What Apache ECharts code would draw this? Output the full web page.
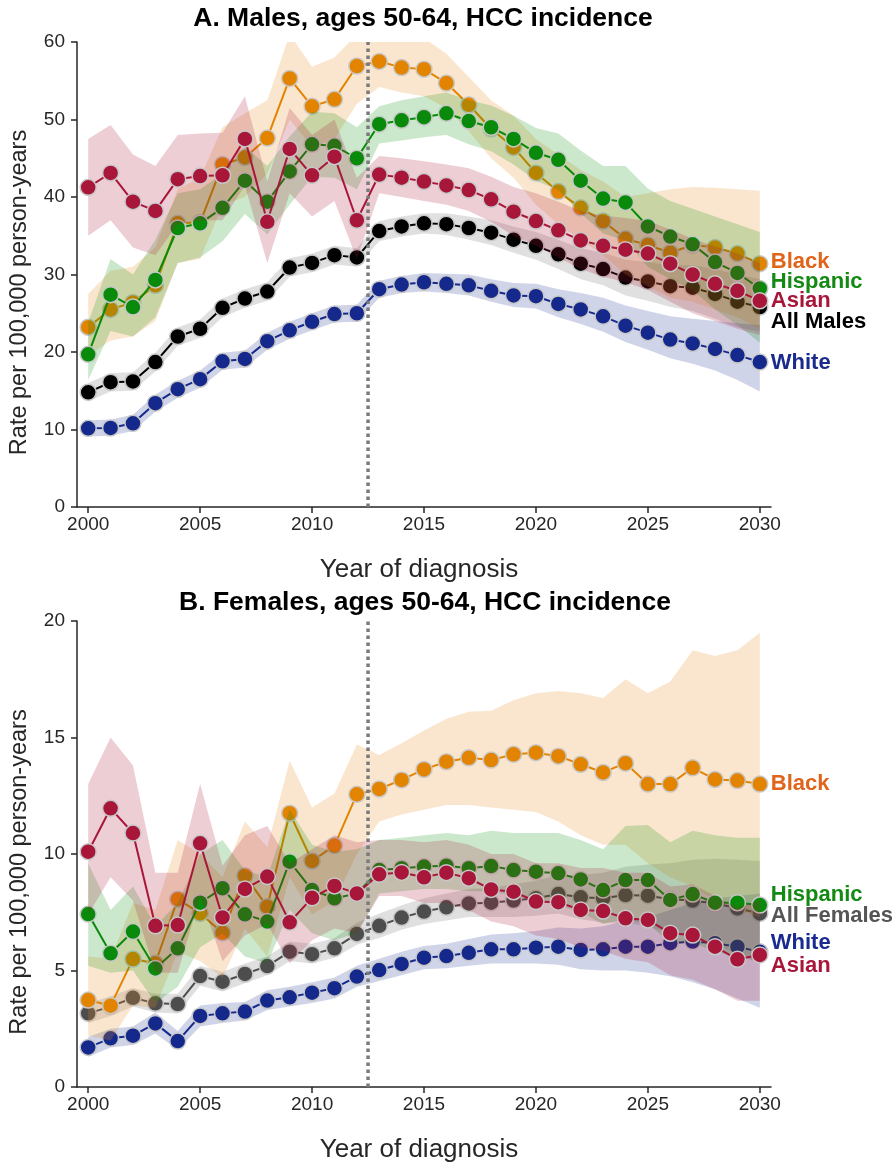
<!DOCTYPE html>
<html><head><meta charset="utf-8">
<script src="https://cdn.jsdelivr.net/npm/echarts@6/dist/echarts.min.js"></script>
<style>html,body{margin:0;padding:0;background:#fff}#c{width:896px;height:1165px}</style>
</head><body><div id="c"></div>
<script>
const years = [2000,2001,2002,2003,2004,2005,2006,2007,2008,2009,2010,2011,2012,2013,2014,2015,2016,2017,2018,2019,2020,2021,2022,2023,2024,2025,2026,2027,2028,2029,2030];
const xTicks = [2000,2005,2010,2015,2020,2025,2030];
const vline = 2012.5;

// Panel A: males
const A_all   = [14.8,16.1,16.2,18.7,22.0,23.0,25.7,26.9,27.8,30.9,31.5,32.5,32.2,35.6,36.2,36.6,36.5,36.0,35.4,34.5,33.7,32.6,31.4,30.7,29.6,29.1,28.5,28.3,27.5,26.5,25.8];
const A_all_lo= [13.6,14.9,15.0,17.5,20.8,21.8,24.5,25.7,26.6,29.7,30.3,31.3,31.0,34.3,34.9,35.3,35.1,34.5,33.8,32.8,31.9,30.7,29.4,28.6,27.3,26.6,25.8,25.3,24.3,23.2,22.6];
const A_all_hi= [16.0,17.3,17.4,19.9,23.2,24.2,26.9,28.1,29.0,32.1,32.7,33.7,33.4,36.9,37.5,37.9,37.9,37.5,37.0,36.2,35.5,34.5,33.4,32.8,31.9,31.6,31.2,31.2,30.7,30.0,29.4];
const A_white   = [10.15,10.2,10.8,13.4,15.2,16.5,18.8,19.1,21.4,22.8,23.9,24.9,25.0,28.1,28.7,29.0,28.8,28.6,27.9,27.3,27.2,26.2,25.5,24.6,23.4,22.5,21.6,21.1,20.4,19.6,18.7];
const A_white_lo= [9.1,9.2,9.8,12.3,14.1,15.4,17.7,18.0,20.3,21.7,22.8,23.8,23.9,27.0,27.6,27.8,27.6,27.3,26.5,25.8,25.6,24.5,23.6,22.6,21.3,20.3,19.2,18.5,17.6,16.4,14.9];
const A_white_hi= [11.2,11.3,11.9,14.5,16.3,17.6,19.9,20.2,22.5,23.9,25.0,26.0,26.1,29.2,29.8,30.2,30.1,30.0,29.4,28.9,28.8,28.1,27.6,27.0,26.0,25.3,24.6,24.3,24.0,23.7,23.5];
const A_black   = [23.2,25.5,26.4,28.6,36.6,36.7,44.2,45.1,47.6,55.3,51.7,52.6,56.9,57.5,56.7,56.5,54.7,51.9,48.8,46.4,43.1,40.7,38.6,36.9,34.6,33.8,32.8,33.8,33.5,32.7,31.4];
const A_black_lo= [19.5,21.5,22.0,24.0,31.5,32.0,39.0,40.0,43.0,50.0,46.5,47.5,52.0,54.2,53.5,53.0,51.5,48.5,45.0,42.5,39.0,36.5,34.5,32.5,30.0,28.5,27.0,26.5,25.5,24.5,23.0];
const A_black_hi= [27.5,30.5,31.0,33.5,41.0,42.5,49.0,50.8,52.5,61.0,56.8,58.0,61.0,61.0,61.0,60.5,58.5,55.5,52.5,50.5,47.5,45.5,43.5,42.0,40.0,40.5,41.0,41.3,41.2,41.0,40.8];
const A_hisp   = [19.7,27.4,25.8,29.3,36.0,36.6,38.6,42.1,39.4,43.3,46.8,46.6,45.0,49.4,49.9,50.3,50.8,49.8,49.0,47.5,45.7,44.8,42.1,39.8,39.3,36.2,34.9,33.9,31.6,30.2,28.2];
const A_hisp_lo= [16.4,22.7,22.0,24.5,31.5,32.2,34.3,37.8,35.2,39.0,42.6,42.5,41.0,46.9,47.3,47.7,48.0,46.8,45.9,44.2,42.1,40.9,37.9,35.3,34.4,31.0,29.4,28.0,25.5,23.5,21.2];
const A_hisp_hi= [23.8,32.0,30.0,34.5,40.5,41.0,43.0,46.5,44.0,47.8,51.0,50.8,49.0,51.7,52.5,53.0,53.5,52.5,51.8,50.5,48.9,48.2,46.0,44.0,44.0,41.1,39.5,38.5,37.5,36.5,35.5];
const A_asian   = [41.25,43.1,39.4,38.2,42.3,42.7,42.8,47.5,36.8,46.2,42.8,45.2,37.0,42.9,42.5,42.0,41.5,40.9,39.7,38.1,36.9,35.7,34.4,33.7,33.2,32.7,31.4,30.0,28.8,27.9,26.6];
const A_asian_lo= [35.0,37.0,33.5,32.5,36.5,37.0,37.0,41.5,31.5,40.5,37.5,39.5,32.0,40.5,40.0,39.5,39.0,38.2,36.8,35.0,33.7,32.2,30.7,29.7,29.0,28.0,26.5,25.0,24.0,23.0,22.2];
const A_asian_hi= [47.5,49.3,45.5,44.0,48.0,48.2,48.3,53.0,42.0,51.5,48.0,50.0,42.5,45.3,45.0,44.6,44.2,43.7,42.6,41.3,40.5,39.4,38.2,37.6,37.3,36.9,35.8,34.6,33.6,32.7,31.5];

// Panel B: females
const B_all   = [3.16,3.45,3.83,3.59,3.56,4.76,4.52,4.85,5.19,5.81,5.7,5.95,6.57,6.92,7.27,7.53,7.71,7.88,7.91,8.0,8.1,8.28,8.14,8.1,8.24,8.21,8.06,8.0,7.88,7.67,7.45];
const B_all_lo= [2.75,3.05,3.45,3.2,3.15,4.35,4.1,4.45,4.8,5.4,5.3,5.55,6.1,6.4,6.75,7.0,7.15,7.3,7.3,7.3,7.35,7.45,7.2,7.05,7.05,6.9,6.6,6.4,6.1,5.7,5.3];
const B_all_hi= [3.6,3.9,4.25,4.0,4.0,5.2,4.95,5.3,5.6,6.25,6.15,6.4,7.05,7.45,7.8,8.1,8.3,8.5,8.55,8.7,8.85,9.1,9.1,9.2,9.45,9.55,9.6,9.75,9.8,9.75,9.7];
const B_white   = [1.7,2.09,2.2,2.73,1.97,3.05,3.16,3.24,3.71,3.85,4.05,4.24,4.74,5.02,5.28,5.55,5.62,5.76,5.91,5.91,5.98,6.02,5.88,5.91,6.02,6.02,6.17,6.24,6.17,6.02,5.8];
const B_white_lo= [1.3,1.7,1.8,2.3,1.6,2.6,2.75,2.85,3.3,3.45,3.6,3.8,4.3,4.55,4.8,5.05,5.1,5.2,5.3,5.3,5.3,5.25,5.05,5.0,5.0,4.9,4.75,4.5,4.2,3.8,3.4];
const B_white_hi= [2.15,2.5,2.6,3.2,2.4,3.5,3.6,3.65,4.15,4.3,4.5,4.7,5.2,5.5,5.8,6.05,6.15,6.35,6.55,6.6,6.7,6.85,6.8,6.9,7.15,7.3,7.6,7.9,8.1,8.2,8.3];
const B_black   = [3.73,3.49,5.49,5.31,8.06,7.45,6.62,9.07,7.74,11.75,9.7,10.36,12.56,12.79,13.18,13.63,13.96,14.13,14.03,14.28,14.35,14.2,13.85,13.5,13.9,13.0,13.0,13.7,13.2,13.15,13.0];
const B_black_lo= [2.2,2.0,3.5,3.4,5.8,5.4,4.7,6.8,5.6,9.0,7.4,8.0,10.0,11.4,11.7,11.9,12.1,12.1,12.0,11.9,11.8,11.4,10.8,10.4,10.4,9.6,9.0,8.6,8.0,7.6,7.3];
const B_black_hi= [5.6,5.5,7.9,7.6,10.6,10.0,9.0,11.4,10.3,14.0,12.0,12.6,14.7,14.25,14.75,15.3,15.8,16.1,16.15,16.6,16.9,17.0,16.9,16.7,17.5,16.9,17.4,18.75,18.5,18.75,19.5];
const B_hisp   = [7.42,5.74,6.67,5.09,5.95,7.91,8.53,7.41,7.1,9.67,8.45,8.1,8.3,9.31,9.39,9.46,9.5,9.39,9.48,9.31,9.24,9.17,8.91,8.45,8.88,8.88,8.03,8.28,7.91,7.91,7.81];
const B_hisp_lo= [5.2,4.9,5.0,3.6,4.3,6.0,6.6,5.6,5.3,7.6,6.6,6.3,6.6,8.3,8.4,8.5,8.5,8.4,8.4,8.2,8.0,7.8,7.5,7.0,7.2,7.0,6.2,6.2,5.8,5.6,5.4];
const B_hisp_hi= [9.6,7.6,8.6,6.9,7.9,10.0,10.6,9.3,9.0,11.9,10.4,10.1,10.2,10.6,10.7,10.8,10.9,10.8,11.0,10.9,10.9,10.9,10.6,10.2,11.2,11.25,10.5,11.0,10.8,10.7,10.7];
const B_asian   = [10.1,11.96,10.9,6.92,6.95,10.46,7.28,8.5,9.03,7.07,8.12,8.63,8.31,9.13,9.21,9.0,9.2,8.96,8.48,8.38,7.96,7.93,7.6,7.55,7.24,7.17,6.6,6.52,6.02,5.48,5.67];
const B_asian_lo= [7.4,9.0,8.0,4.9,4.9,8.2,5.4,6.5,7.0,5.3,6.3,6.8,6.6,8.2,8.2,7.9,7.9,7.6,7.1,6.9,6.5,6.35,6.0,5.85,5.5,5.35,4.8,4.6,4.2,3.7,3.7];
const B_asian_hi= [13.0,15.0,13.8,9.2,9.2,13.0,9.5,10.8,11.2,9.6,10.2,10.8,10.5,10.6,10.6,10.5,10.6,10.4,10.0,10.0,9.6,9.6,9.4,9.4,9.2,9.2,8.6,8.7,8.2,7.7,8.0];

const FONT = "'Liberation Sans', Arial, Helvetica, sans-serif";
const AX = '#262626';

const panels = [
  {ymax:60, yint:10, groups:[
    {name:'All Males', v:A_all, lo:A_all_lo, hi:A_all_hi, c:'#000000', band:'rgba(0,0,0,0.12)', lc:'#000000', dy:15},
    {name:'White', v:A_white, lo:A_white_lo, hi:A_white_hi, c:'#15298C', band:'rgba(20,41,140,0.2)', lc:'#1A2B8F', dy:1},
    {name:'Black', v:A_black, lo:A_black_lo, hi:A_black_hi, c:'#E38400', band:'rgba(232,140,30,0.22)', lc:'#E0641A', dy:-2},
    {name:'Hispanic', v:A_hisp, lo:A_hisp_lo, hi:A_hisp_hi, c:'#0A8A0A', band:'rgba(0,138,0,0.2)', lc:'#148A14', dy:-7},
    {name:'Asian', v:A_asian, lo:A_asian_lo, hi:A_asian_hi, c:'#A8163A', band:'rgba(168,22,58,0.21)', lc:'#A8163A', dy:0}
  ]},
  {ymax:20, yint:5, groups:[
    {name:'All Females', v:B_all, lo:B_all_lo, hi:B_all_hi, c:'#4D4D4D', band:'rgba(0,0,0,0.12)', lc:'#555555', dy:3},
    {name:'White', v:B_white, lo:B_white_lo, hi:B_white_hi, c:'#15298C', band:'rgba(20,41,140,0.2)', lc:'#1A2B8F', dy:-9},
    {name:'Black', v:B_black, lo:B_black_lo, hi:B_black_hi, c:'#E38400', band:'rgba(232,140,30,0.22)', lc:'#E0641A', dy:0},
    {name:'Hispanic', v:B_hisp, lo:B_hisp_lo, hi:B_hisp_hi, c:'#0A8A0A', band:'rgba(0,138,0,0.2)', lc:'#148A14', dy:-10},
    {name:'Asian', v:B_asian, lo:B_asian_lo, hi:B_asian_hi, c:'#A8163A', band:'rgba(168,22,58,0.21)', lc:'#A8163A', dy:11}
  ]}
];

const grids = [
  {left:77, width:694, top:42, height:465},
  {left:77, width:694, top:621, height:466}
];

const xAxes = [], yAxes = [], series = [];
panels.forEach((p, pi) => {
  xAxes.push({
    type:'value', gridIndex:pi, min:1999.5, max:2030.5,
    name:'Year of diagnosis', nameLocation:'middle', nameGap:50,
    nameTextStyle:{fontSize:26, color:AX, fontFamily:FONT, padding:[0,10,0,0]},
    axisLine:{show:true, lineStyle:{color:AX, width:1.5}},
    axisTick:{show:true, length:6, customValues:xTicks, lineStyle:{color:AX, width:1.5}},
    axisLabel:{customValues:xTicks, formatter:(v)=>String(v), fontSize:19, color:AX, fontFamily:FONT, margin:8},
    splitLine:{show:false}
  });
  yAxes.push({
    type:'value', gridIndex:pi, min:0, max:p.ymax, interval:p.yint,
    name:'Rate per 100,000 person-years', nameLocation:'middle', nameGap:45, nameRotate:90,
    nameTextStyle:{fontSize:23.5, color:AX, fontFamily:FONT, padding:[0,36,0,0]},
    axisLine:{show:true, lineStyle:{color:AX, width:1.5}},
    axisTick:{show:true, length:6, lineStyle:{color:AX, width:1.5}},
    axisLabel:{fontSize:19, color:AX, fontFamily:FONT, margin:12},
    splitLine:{show:false}
  });
  p.groups.forEach((g, gi) => {
    const lo = g.lo, hi = g.hi, col = g.band;
    series.push({
      type:'custom', xAxisIndex:pi, yAxisIndex:pi, silent:true, clip:true, z:2+2*gi,
      data: years.map((y,i)=>[y, lo[i], hi[i]]),
      encode:{x:0, y:[1,2]},
      renderItem:(params, api) => {
        if (params.dataIndex !== 0) return null;
        const pts = [];
        for (let i=0;i<years.length;i++) pts.push(api.coord([years[i], lo[i]]));
        for (let i=years.length-1;i>=0;i--) pts.push(api.coord([years[i], hi[i]]));
        const cs = params.coordSys;
        return {type:'polygon', shape:{points:pts}, style:{fill:col},
          clipPath:{type:'rect', shape:{x:cs.x, y:cs.y, width:cs.width, height:cs.height}}};
      }
    });
    series.push({
      type:'line', name:g.name, xAxisIndex:pi, yAxisIndex:pi, z:3+2*gi,
      data: years.map((y,i)=>[y, g.v[i]]),
      symbol:'circle', symbolSize:16, showAllSymbol:true,
      lineStyle:{color:g.c, width:2},
      itemStyle:{color:g.c, borderColor:'#c8c8c8', borderWidth:1.5},
      emphasis:{disabled:true},
      endLabel:{show:true, formatter:g.name, color:g.lc, fontWeight:'bold', fontSize:22,
        fontFamily:FONT, distance:11, offset:[0, g.dy]}
    });
  });
  series.push({
    type:'line', xAxisIndex:pi, yAxisIndex:pi, z:30, silent:true,
    data:[[vline,0],[vline,p.ymax]], symbol:'none',
    lineStyle:{color:'#7a7a7a', width:3.5, type:[3.5,3.5]}
  });
});

const chart = echarts.init(document.getElementById('c'), null, {renderer:'canvas'});
chart.setOption({
  animation:false,
  backgroundColor:'#fff',
  textStyle:{fontFamily:FONT},
  grid:grids, xAxis:xAxes, yAxis:yAxes, series:series,
  graphic:[
    {type:'text', x:423, y:5, style:{text:'A. Males, ages 50-64, HCC incidence', font:"bold 26.5px 'Liberation Sans', Arial, sans-serif", fill:'#000', textAlign:'center', textVerticalAlign:'top'}},
    {type:'text', x:425, y:589, style:{text:'B. Females, ages 50-64, HCC incidence', font:"bold 26.5px 'Liberation Sans', Arial, sans-serif", fill:'#000', textAlign:'center', textVerticalAlign:'top'}}
  ]
});
</script>
</body></html>
